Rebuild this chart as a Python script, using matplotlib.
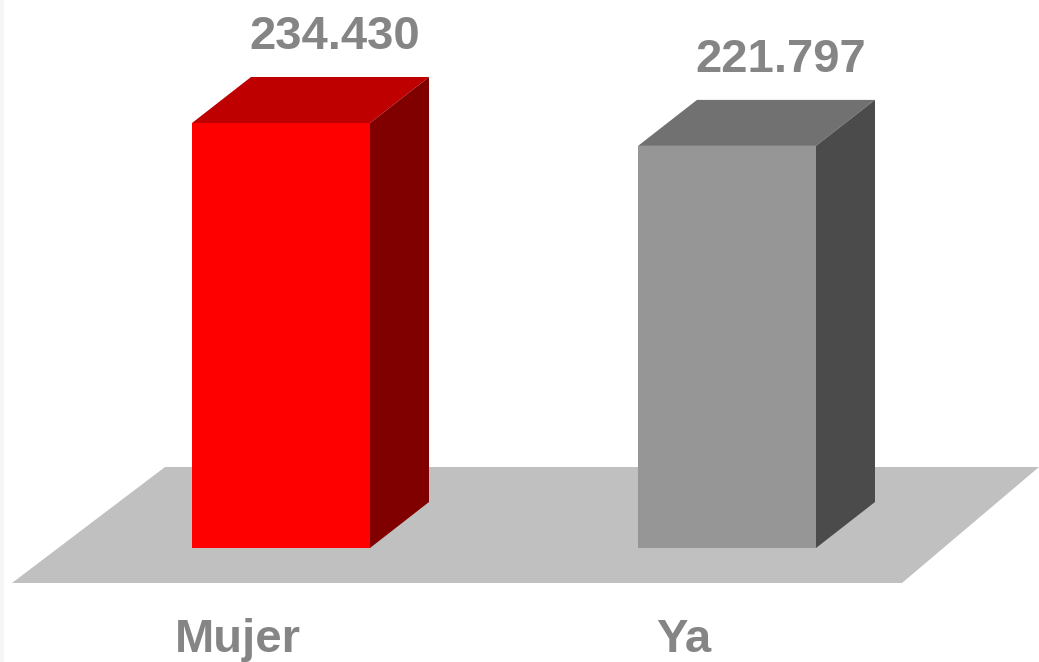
import numpy as np
import matplotlib
matplotlib.use("Agg")
import matplotlib.pyplot as plt
from matplotlib.patches import Polygon, Rectangle

categories = ["Mujer", "Ya"]
values = [234430, 221797]
labels = ["234.430", "221.797"]
front_colors = ["#ff0000", "#969696"]
top_colors = ["#bf0000", "#717171"]
side_colors = ["#800000", "#4b4b4b"]

W, H = 1039, 662
fig = plt.figure(figsize=(W / 100, H / 100), dpi=100)
ax = fig.add_axes([0, 0, 1, 1])

# pixel <-> data scales
px_x = 1 / 446.0          # category units per pixel
px_y = 551.6              # value units per pixel
base_px = 114             # baseline (value 0) from bottom, px
ax.set_xlim(-281 * px_x, (W - 281) * px_x)
ax.set_ylim(-base_px * px_y, (H - base_px) * px_y)
ax.axis("off")

bar_w = 178 * px_x
ddx, ddy = 59 * px_x, 46 * px_y   # 3d depth offset

# floor
fy0, fy1 = (79 - base_px) * px_y, (195 - base_px) * px_y
floor = Polygon([(-269 * px_x, fy0), (621 * px_x, fy0),
                 (758 * px_x, fy1), (-116 * px_x, fy1)],
                closed=True, facecolor="#c0c0c0", edgecolor="none", zorder=1)
ax.add_patch(floor)

txt = "#858585"
for i, (v, lab) in enumerate(zip(values, labels)):
    x0 = i - bar_w / 2
    x1 = i + bar_w / 2
    # front
    ax.add_patch(Polygon([(x0, 0), (x1, 0), (x1, v), (x0, v)],
                         facecolor=front_colors[i], edgecolor="none", zorder=3))
    # top
    ax.add_patch(Polygon([(x0, v), (x1, v), (x1 + ddx, v + ddy), (x0 + ddx, v + ddy)],
                         facecolor=top_colors[i], edgecolor="none", zorder=3))
    # side
    ax.add_patch(Polygon([(x1, 0), (x1 + ddx, ddy), (x1 + ddx, v + ddy), (x1, v)],
                         facecolor=side_colors[i], edgecolor="none", zorder=3))
    ax.text(i + ddx - 5 * px_x, v + ddy + 28 * px_y, lab, ha="center", va="baseline",
            fontsize=34, fontweight="bold", color=txt, family="Liberation Sans")
    ax.text(i - 43 * px_x, -104 * px_y, categories[i], ha="center", va="baseline",
            fontsize=34, fontweight="bold", color=txt, family="Liberation Sans")

# faint strip at left edge
fig.patches.append(Rectangle((0, 0), 4 / W, 1, transform=fig.transFigure,
                             facecolor="#f6f6f6", edgecolor="none"))

fig.savefig("out.png", dpi=100)
